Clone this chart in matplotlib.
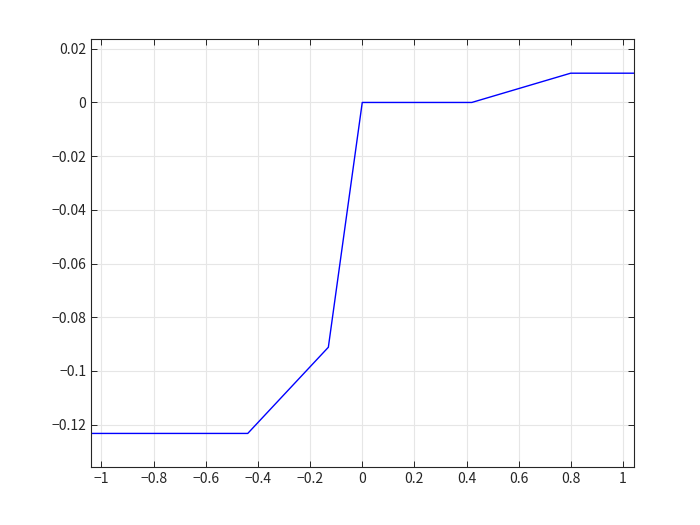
import matplotlib
matplotlib.use("Agg")
import matplotlib.pyplot as plt

plt.rcParams['font.family'] = ['Noto Sans CJK JP', 'DejaVu Sans']

# breakpoints of the piecewise-linear curve
x_vals = [-1.04, -0.439, -0.130, 0.0, 0.42, 0.799, 1.04]
y_vals = [-0.1233, -0.1233, -0.0912, 0.0, 0.0, 0.0109, 0.0109]

x_ticks = [-1, -0.8, -0.6, -0.4, -0.2, 0, 0.2, 0.4, 0.6, 0.8, 1]
x_labels = ['\u22121', '\u22120.8', '\u22120.6', '\u22120.4', '\u22120.2', '0',
            '0.2', '0.4', '0.6', '0.8', '1']
y_ticks = [-0.12, -0.1, -0.08, -0.06, -0.04, -0.02, 0, 0.02]
y_labels = ['\u22120.12', '\u22120.1', '\u22120.08', '\u22120.06', '\u22120.04',
            '\u22120.02', '0', '0.02']

fig = plt.figure(figsize=(7, 5.25), dpi=100)
ax = fig.add_axes([0.13, 0.11, 0.775, 0.815])

ax.plot(x_vals, y_vals, color='#0000ff', linewidth=1.0)

ax.set_xlim(-1.04, 1.04)
ax.set_ylim(-0.1359, 0.0235)
ax.set_xticks(x_ticks)
ax.set_xticklabels(x_labels)
ax.set_yticks(y_ticks)
ax.set_yticklabels(y_labels)

ax.grid(True, color='#e6e6e6', linewidth=0.8)
ax.set_axisbelow(True)
ax.tick_params(direction='in', top=True, right=True, length=4, width=0.7,
               colors='#262626', labelsize=10, labelcolor='#262626')
for s in ax.spines.values():
    s.set_color('#262626')
    s.set_linewidth(0.8)

fig.savefig('out.png', dpi=100)
